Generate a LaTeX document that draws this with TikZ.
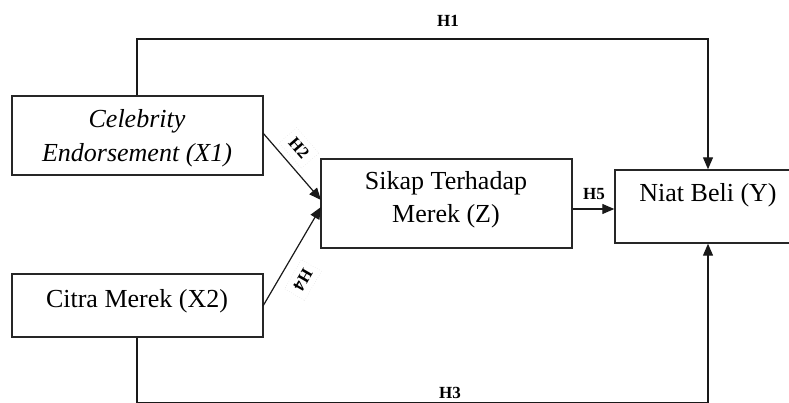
\documentclass[tikz,border=0pt]{standalone}
\usepackage{fontspec}
\setmainfont{Liberation Serif}
\usetikzlibrary{arrows.meta}
\begin{document}
\begin{tikzpicture}[x=1pt,y=-1pt,
  box/.style={draw=black!85, line width=1.4pt, inner sep=0pt},
  txt/.style={font=\fontsize{26}{33}\selectfont, align=center, inner sep=0pt},
  hlab/.style={font=\fontsize{17}{20}\selectfont\bfseries, inner sep=1pt},
  hbox/.style={hlab, draw=black!18, dotted, inner sep=6pt},
  conn/.style={draw=black!90, line width=1.2pt},
  arr/.style={conn, -{Triangle[width=10pt,length=12pt]}}]
\useasboundingbox (0,0) rectangle (789,403);
\clip (0,0) rectangle (789,403);
% boxes
\node[box, minimum width=251pt, minimum height=79pt] (X1) at (137.5,135.5) {};
\node[txt, font=\fontsize{26}{34}\selectfont\itshape] (X1t) at (137,138) {Celebrity\\Endorsement (X1)};
\node[box, minimum width=251pt, minimum height=63pt] (X2) at (137.5,305.5) {};
\node[txt] (X2t) at (137,301) {Citra Merek (X2)};
\node[box, minimum width=251pt, minimum height=89pt] (Z) at (446.5,203.5) {};
\node[txt] (Zt) at (446,200) {Sikap Terhadap\\Merek (Z)};
\node[box, minimum width=186pt, minimum height=73pt] (Y) at (708,206.5) {};
\node[txt] (Yt) at (708,195) {Niat Beli (Y)};
% coordinates
\coordinate (a1) at (137,39);
\coordinate (a2) at (708,39);
\coordinate (b1) at (137,403);
\coordinate (b2) at (708,403);
\coordinate (x1e) at (263,133);
\coordinate (x2e) at (263,306);
\coordinate (z2) at (321,200);
\coordinate (z4) at (321,207);
% connectors
\draw[arr] (X1.north -| a1) -- (a1) -- (a2) -- (Y.north -| a2);
\draw[arr] (X2.south -| b1) -- (b1) -- (b2) -- (Y.south -| b2);
\draw[arr] (x1e) -- (z2);
\draw[arr] (x2e) -- (z4);
\draw[arr] (Z.east |- 0,209) -- (Y.west |- 0,209);
% labels
\node[hlab] (h1) at (448,21) {H1};
\node[hlab] (h3) at (450,393) {H3};
\node[hlab] (h5) at (594,194) {H5};
\node[hbox, rotate=-49] (h2) at (299,148) {H2};
\node[hbox, rotate=-120] (h4) at (303,280) {H4};
\end{tikzpicture}
\end{document}
